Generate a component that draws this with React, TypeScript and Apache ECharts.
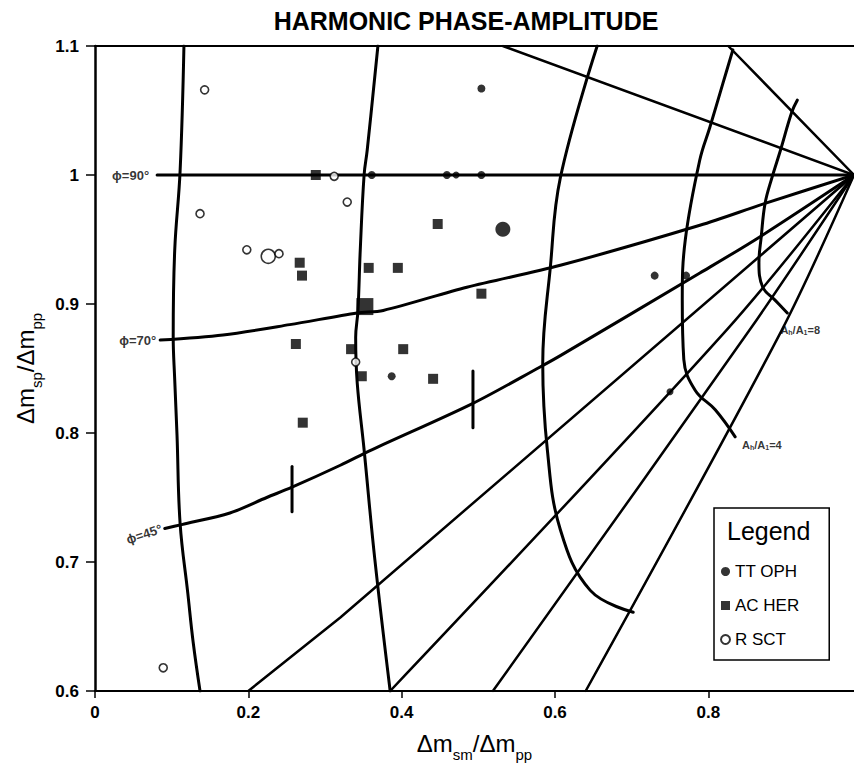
import React, { useEffect, useRef } from "react";
import * as echarts from "echarts";

const FONT = "'Liberation Sans', Arial, Helvetica, sans-serif";
const TITLE = "HARMONIC PHASE-AMPLITUDE";

const X_MIN = 0;
const X_MAX = 0.99;
const X_STEP = 0.2;
const Y_MIN = 0.6;
const Y_MAX = 1.1;
const Y_STEP = 0.1;

// Star groups: [x, y, marker size]
const ttOph = [
  [0.504, 1.067, 8],
  [0.361, 1.0, 8],
  [0.459, 1.0, 8],
  [0.471, 1.0, 7],
  [0.504, 1.0, 8],
  [0.532, 0.958, 15],
  [0.387, 0.844, 8],
  [0.73, 0.922, 8],
  [0.771, 0.922, 8],
  [0.75, 0.832, 7],
];
const acHer = [
  [0.288, 1.0, 10],
  [0.267, 0.932, 10],
  [0.27, 0.922, 10],
  [0.357, 0.928, 10],
  [0.395, 0.928, 10],
  [0.447, 0.962, 10],
  [0.504, 0.908, 10],
  [0.352, 0.898, 17],
  [0.262, 0.869, 10],
  [0.334, 0.865, 10],
  [0.402, 0.865, 10],
  [0.348, 0.844, 10],
  [0.441, 0.842, 10],
  [0.271, 0.808, 10],
];
const rSct = [
  [0.143, 1.066, 8],
  [0.137, 0.97, 8],
  [0.198, 0.942, 8],
  [0.226, 0.937, 14],
  [0.24, 0.939, 8],
  [0.312, 0.999, 8],
  [0.329, 0.979, 8],
  [0.34, 0.855, 8],
  [0.089, 0.618, 8],
];

// Vertical error bars: [x, yLow, yHigh]
const errorBars = [
  [0.257, 0.739, 0.774],
  [0.493, 0.804, 0.848],
];

// Constant amplitude-ratio curves
const ampCurve1 = [
  [0.116, 1.1], [0.111, 1.003], [0.104, 0.942], [0.102, 0.875], [0.104, 0.841],
  [0.107, 0.798], [0.111, 0.73], [0.121, 0.676], [0.128, 0.638], [0.137, 0.6],
];
const ampCurve2 = [
  [0.369, 1.1], [0.355, 1.019], [0.351, 1.0], [0.346, 0.942], [0.343, 0.895],
  [0.34, 0.874], [0.342, 0.839], [0.351, 0.787], [0.365, 0.702], [0.385, 0.6],
];
const ampCurve3 = [
  [0.655, 1.1], [0.607, 0.998], [0.594, 0.929], [0.584, 0.854], [0.59, 0.787],
  [0.607, 0.725], [0.646, 0.678], [0.702, 0.661],
];
const ampCurve4 = [
  [0.832, 1.097], [0.819, 1.071], [0.802, 1.037], [0.789, 1.012], [0.77, 0.95],
  [0.766, 0.903], [0.768, 0.857], [0.783, 0.833], [0.809, 0.818], [0.835, 0.797],
];
const ampCurve5 = [
  [0.916, 1.058], [0.909, 1.049], [0.894, 1.019], [0.883, 0.998], [0.874, 0.978],
  [0.869, 0.952], [0.866, 0.932], [0.871, 0.913], [0.887, 0.903], [0.903, 0.893],
];

// Constant-phase lines, all meeting at the pole
const POLE = [0.99, 1.0];
const phaseUpper1 = [[0.532, 1.1], POLE];
const phaseUpper2 = [[0.826, 1.1], POLE];
const phase90 = [[0.081, 1.0], POLE];
const phase70 = [
  [0.085, 0.872], [0.167, 0.876], [0.254, 0.884], [0.342, 0.893], [0.376, 0.895],
  [0.485, 0.913], [0.607, 0.93], [0.789, 0.961], [0.874, 0.978], POLE,
];
const phase45 = [
  [0.091, 0.726], [0.113, 0.729], [0.176, 0.738], [0.224, 0.75], [0.257, 0.758],
  [0.32, 0.775], [0.361, 0.787], [0.493, 0.823], [0.58, 0.851], [0.607, 0.86],
  [0.789, 0.924], [0.867, 0.952], POLE,
];
const phaseLow1 = [[0.2, 0.6], [0.32, 0.657], POLE];
const phaseLow2 = [[0.385, 0.6], [0.824, 0.88], POLE];
const phaseLow3 = [[0.519, 0.6], [0.854, 0.88], POLE];
const phaseLow4 = [[0.64, 0.6], [0.896, 0.88], POLE];

// Curve captions: text, anchor, side, rotation
const captions = [
  { text: "ϕ=90°", at: [0.081, 1.0], side: "left", rotate: 0, gap: 8 },
  { text: "ϕ=70°", at: [0.085, 0.872], side: "left", rotate: 0, gap: 4 },
  { text: "ϕ=45°", at: [0.091, 0.726], side: "left", rotate: 18, gap: 3 },
  { text: "{b|A}{s|h}{b|/A}{s|1}{b|=4}", at: [0.844, 0.791], side: "right", rotate: 0, gap: 0 },
  { text: "{b|A}{s|h}{b|/A}{s|1}{b|=8}", at: [0.894, 0.88], side: "right", rotate: 0, gap: 0 },
];

const LEGEND_NAMES = ["TT OPH", "AC HER", "R SCT"];

function curveSeries(data: number[][], smooth: number | boolean, width = 3) {
  return {
    type: "line",
    data,
    showSymbol: false,
    smooth,
    silent: true,
    clip: true,
    z: 2,
    lineStyle: { color: "#000", width, cap: "round", join: "round" },
  };
}

function markerSeries(name: string, rows: number[][], symbol: string, filled: boolean) {
  return {
    name,
    type: "scatter",
    symbol,
    z: 4,
    silent: true,
    data: rows.map((r) => ({ value: [r[0], r[1]], symbolSize: r[2] })),
    itemStyle: filled
      ? { color: "#000" }
      : { color: "#fff", borderColor: "#000", borderWidth: 1.6 },
  };
}

const subRich = {
  m: { fontSize: 24, lineHeight: 26, verticalAlign: "top", fontFamily: FONT, color: "#000" },
  s: { fontSize: 15, padding: [16, 0, 0, 0], verticalAlign: "top", fontFamily: FONT, color: "#000" },
};

export default function App() {
  const ref = useRef<HTMLDivElement>(null);

  useEffect(() => {
    document.body.style.margin = "0";
    const chart = echarts.init(ref.current!, null, { renderer: "svg" });

    const curves = [
      curveSeries(ampCurve1, 0.4),
      curveSeries(ampCurve2, 0.4),
      curveSeries(ampCurve3, 0.4),
      curveSeries(ampCurve4, 0.4),
      curveSeries(ampCurve5, 0.4),
      curveSeries(phaseUpper1, false, 2.5),
      curveSeries(phaseUpper2, false, 2.5),
      curveSeries(phase90, false, 3),
      curveSeries(phase70, 0.3, 3),
      curveSeries(phase45, 0.3, 3),
      curveSeries(phaseLow1, false, 2.5),
      curveSeries(phaseLow2, 0.3, 2.5),
      curveSeries(phaseLow3, 0.3, 2.5),
      curveSeries(phaseLow4, 0.3, 2.5),
      ...errorBars.map((b) =>
        curveSeries([[b[0], b[1]], [b[0], b[2]]], false, 3)
      ),
    ];

    const captionSeries = {
      type: "scatter",
      silent: true,
      z: 5,
      symbolSize: 0,
      data: captions.map((c) => ({
        value: c.at,
        label: {
          show: true,
          position: c.side,
          distance: c.gap,
          rotate: c.rotate,
          formatter: c.text,
          fontSize: 13,
          fontWeight: "bold",
          fontFamily: FONT,
          color: "#000",
          rich: {
            b: { fontSize: 11, fontWeight: "bold", fontFamily: FONT, color: "#000" },
            s: { fontSize: 7, fontWeight: "bold", fontFamily: FONT, color: "#000", padding: [5, 0, 0, 0] },
          },
        },
      })),
    };

    chart.setOption({
      animation: false,
      backgroundColor: "#fff",
      textStyle: { fontFamily: FONT },
      grid: { left: 95, right: 0, top: 46, bottom: 76, containLabel: false },
      xAxis: [
        {
          type: "value",
          min: X_MIN,
          max: X_MAX,
          interval: X_STEP,
          position: "bottom",
          axisLine: { show: true, lineStyle: { color: "#000", width: 2 } },
          axisTick: { show: true, length: 7, lineStyle: { color: "#000", width: 1.5 } },
          splitLine: { show: false },
          axisLabel: {
            color: "#000",
            fontSize: 17,
            fontWeight: "bold",
            fontFamily: FONT,
            margin: 13,
            showMaxLabel: false,
            formatter: (v: number) => (v === 0 ? "0" : String(+v.toFixed(1))),
          },
          name: "{m|Δm}{s|sm}{m|/Δm}{s|pp}",
          nameLocation: "middle",
          nameGap: 40,
          nameTextStyle: { rich: subRich },
        },
        {
          type: "value",
          min: X_MIN,
          max: X_MAX,
          position: "top",
          axisLine: { show: true, lineStyle: { color: "#000", width: 2 } },
          axisTick: { show: false },
          axisLabel: { show: false },
          splitLine: { show: false },
        },
      ],
      yAxis: {
        type: "value",
        min: Y_MIN,
        max: Y_MAX,
        interval: Y_STEP,
        axisLine: { show: true, lineStyle: { color: "#000", width: 2.5 } },
        axisTick: { show: true, length: 9, lineStyle: { color: "#000", width: 1.5 } },
        splitLine: { show: false },
        axisLabel: {
          color: "#000",
          fontSize: 17,
          fontWeight: "bold",
          fontFamily: FONT,
          margin: 16,
          formatter: (v: number) => String(+v.toFixed(1)),
        },
        name: "{m|Δm}{s|sp}{m|/Δm}{s|pp}",
        nameLocation: "middle",
        nameGap: 50,
        nameTextStyle: { rich: subRich },
      },
      legend: {
        data: LEGEND_NAMES,
        orient: "vertical",
        left: 714,
        top: 508,
        padding: [55, 30, 12, 6],
        itemGap: 17,
        itemWidth: 9,
        itemHeight: 9,
        borderColor: "#000",
        borderWidth: 1.5,
        selectedMode: false,
        textStyle: { fontSize: 17, fontFamily: FONT, color: "#000" },
      },
      graphic: [
        {
          type: "text",
          x: 466,
          y: 21,
          style: {
            text: TITLE,
            font: `bold 25px ${FONT}`,
            fill: "#000",
            align: "center",
            verticalAlign: "middle",
          },
        },
        {
          type: "text",
          x: 727,
          y: 531,
          style: {
            text: "Legend",
            font: `25px ${FONT}`,
            fill: "#000",
            align: "left",
            verticalAlign: "middle",
          },
        },
      ],
      series: [
        ...curves,
        markerSeries(LEGEND_NAMES[0], ttOph, "circle", true),
        markerSeries(LEGEND_NAMES[1], acHer, "rect", true),
        markerSeries(LEGEND_NAMES[2], rSct, "circle", false),
        captionSeries,
      ],
    });

    return () => chart.dispose();
  }, []);

  return <div ref={ref} style={{ width: 854, height: 767 }} />;
}
